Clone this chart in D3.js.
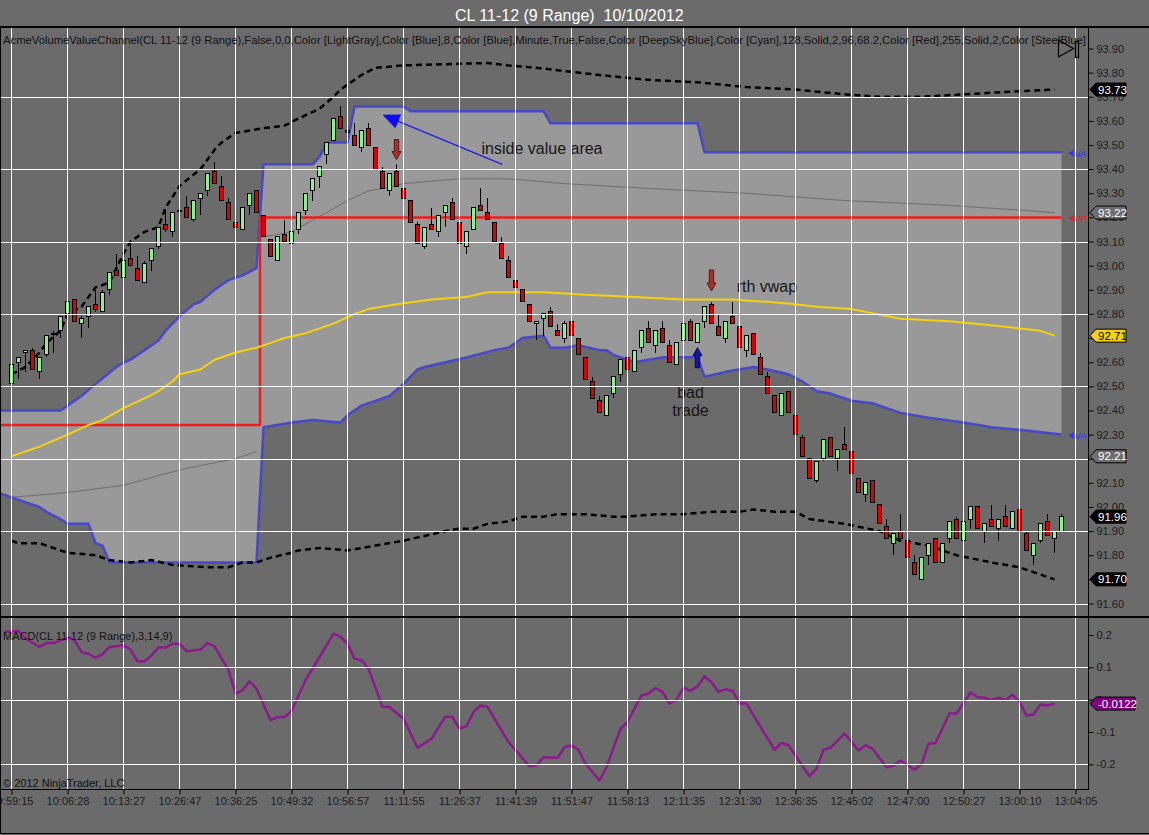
<!DOCTYPE html>
<html>
<head>
<meta charset="utf-8">
<script src="https://cdn.jsdelivr.net/npm/d3@7"></script>
<style>
  body { margin: 0; background: #6b6b6b; }
  svg { display: block; font-family: "Liberation Sans", Arial, sans-serif; }
</style>
</head>
<body>
<div id="chart"></div>
<script>
const WIDTH = 1149;
const HEIGHT = 835;
const AXIS_X = 1088.5;
const MAIN = {top: 27, bottom: 617};
const LOWER = {top: 617, bottom: 789.5};

// range bars (9 ticks), one entry per bar
const opens = [
  92.51,92.60,92.64,92.65,92.56,92.63,92.72,92.73,92.80,92.86,
  92.76,92.79,92.84,92.81,92.90,92.98,92.95,93.03,92.99,92.93,
  93.02,93.08,93.17,93.14,93.23,93.24,93.19,93.28,93.31,93.39,
  93.33,93.26,93.18,93.15,93.25,93.31,93.21,93.11,93.02,93.13,
  93.09,93.15,93.23,93.31,93.37,93.46,93.52,93.62,93.56,93.54,
  93.49,93.57,93.49,93.39,93.31,93.39,93.32,93.27,93.17,93.08,
  93.17,93.14,93.22,93.26,93.18,93.08,93.15,93.25,93.22,93.18,
  93.09,93.02,92.94,92.90,92.84,92.76,92.78,92.81,92.73,92.70,
  92.77,92.70,92.62,92.52,92.44,92.38,92.47,92.55,92.62,92.56,
  92.66,92.74,92.67,92.74,92.67,92.59,92.69,92.77,92.68,92.77,
  92.84,92.75,92.70,92.79,92.75,92.65,92.72,92.62,92.54,92.46,
  92.38,92.48,92.38,92.29,92.20,92.11,92.20,92.29,92.20,92.26,
  92.23,92.12,92.05,92.11,92.01,91.92,91.85,91.90,91.86,91.77,
  91.70,91.80,91.87,91.77,91.87,91.95,91.86,91.95,92.00,91.90,
  91.95,91.91,91.96,91.91,91.99,91.89,91.80,91.86,91.94,91.87,
  91.90];
const highs = [
  92.60,92.62,92.65,92.66,92.62,92.71,92.73,92.79,92.85,92.86,
  92.79,92.83,92.90,92.90,92.97,93.05,93.02,93.09,93.04,93.02,
  93.07,93.16,93.23,93.22,93.23,93.29,93.27,93.30,93.38,93.43,
  93.37,93.28,93.25,93.24,93.30,93.31,93.21,93.11,93.12,93.19,
  93.14,93.22,93.30,93.36,93.41,93.51,93.61,93.66,93.65,93.59,
  93.56,93.59,93.49,93.41,93.38,93.42,93.37,93.27,93.18,93.16,
  93.24,93.21,93.25,93.28,93.18,93.14,93.24,93.32,93.28,93.18,
  93.12,93.04,93.00,92.90,92.84,92.77,92.80,92.83,92.76,92.77,
  92.80,92.70,92.62,92.54,92.46,92.46,92.54,92.61,92.66,92.65,
  92.73,92.77,92.73,92.77,92.69,92.68,92.76,92.78,92.76,92.83,
  92.85,92.80,92.77,92.85,92.75,92.71,92.72,92.64,92.56,92.46,
  92.47,92.48,92.38,92.30,92.20,92.19,92.28,92.29,92.24,92.33,
  92.23,92.12,92.10,92.11,92.01,91.95,91.89,91.97,91.86,91.80,
  91.79,91.85,91.87,91.85,91.94,91.96,91.94,92.00,92.00,91.93,
  92.01,91.95,92.01,91.98,91.99,91.90,91.85,91.93,91.97,91.90,
  91.97];
const lows = [
  92.50,92.53,92.56,92.57,92.53,92.62,92.64,92.70,92.76,92.77,
  92.70,92.74,92.81,92.81,92.88,92.96,92.93,93.00,92.94,92.93,
  92.98,93.07,93.14,93.12,93.14,93.20,93.18,93.21,93.29,93.34,
  93.27,93.19,93.16,93.15,93.21,93.22,93.12,93.04,93.02,93.10,
  93.05,93.13,93.21,93.27,93.32,93.42,93.52,93.57,93.55,93.50,
  93.47,93.50,93.40,93.32,93.29,93.33,93.28,93.18,93.09,93.07,
  93.15,93.12,93.16,93.19,93.09,93.05,93.15,93.23,93.19,93.10,
  93.03,92.95,92.91,92.85,92.77,92.69,92.71,92.75,92.71,92.68,
  92.71,92.63,92.53,92.45,92.39,92.38,92.45,92.52,92.57,92.56,
  92.64,92.68,92.64,92.68,92.60,92.59,92.67,92.69,92.68,92.74,
  92.76,92.71,92.68,92.76,92.66,92.62,92.63,92.55,92.47,92.39,
  92.38,92.39,92.30,92.21,92.12,92.10,92.19,92.21,92.15,92.24,
  92.14,92.06,92.02,92.02,91.93,91.87,91.80,91.87,91.79,91.72,
  91.70,91.76,91.77,91.77,91.85,91.87,91.86,91.91,91.91,91.85,
  91.92,91.86,91.92,91.91,91.90,91.82,91.76,91.85,91.88,91.81,
  91.90];
const closes = [
  92.59,92.62,92.65,92.57,92.62,92.71,92.72,92.79,92.85,92.77,
  92.78,92.83,92.82,92.89,92.97,92.96,93.02,93.00,92.94,93.01,
  93.07,93.16,93.15,93.22,93.23,93.20,93.27,93.30,93.38,93.34,
  93.27,93.19,93.16,93.24,93.30,93.22,93.12,93.04,93.12,93.10,
  93.14,93.22,93.30,93.36,93.41,93.51,93.61,93.57,93.55,93.50,
  93.56,93.50,93.40,93.32,93.38,93.33,93.28,93.18,93.09,93.16,
  93.15,93.21,93.25,93.19,93.09,93.14,93.24,93.23,93.19,93.10,
  93.03,92.95,92.91,92.85,92.77,92.77,92.80,92.75,92.71,92.76,
  92.71,92.63,92.53,92.45,92.39,92.46,92.54,92.61,92.57,92.65,
  92.73,92.68,92.73,92.68,92.60,92.68,92.76,92.69,92.76,92.83,
  92.76,92.71,92.77,92.76,92.66,92.71,92.63,92.55,92.47,92.39,
  92.47,92.39,92.30,92.21,92.12,92.19,92.28,92.21,92.24,92.24,
  92.14,92.06,92.10,92.02,91.93,91.87,91.89,91.87,91.79,91.72,
  91.79,91.85,91.77,91.85,91.94,91.87,91.94,92.00,91.91,91.93,
  91.92,91.95,91.92,91.98,91.90,91.82,91.85,91.93,91.88,91.90,
  91.96];

// indicator readings as [bar, value]
const vaHigh = [[-2,92.40],[7,92.40],[8,92.42],[10,92.46],[12,92.51],[15,92.58],[16,92.60],[17,92.61],
  [19,92.65],[21,92.69],[22,92.73],[24,92.79],[26,92.84],[27,92.85],[29,92.90],[31,92.94],[33,92.96],
  [35,92.99],[36,93.42],[43,93.42],[44,93.45],[45,93.51],[48,93.51],[49,93.66],[56,93.66],[57,93.64],
  [76,93.64],[77,93.59],[98,93.59],[99,93.47],[150,93.47]];
const vaLow = [[-2,92.06],[0,92.04],[3,92.01],[4,92.00],[5,91.98],[7,91.95],[8,91.93],[11,91.93],
  [12,91.85],[13,91.84],[14,91.77],[31,91.77],[35,91.77],[36,92.33],[38,92.34],[40,92.35],[43,92.36],
  [47,92.35],[48,92.38],[50,92.42],[54,92.46],[56,92.51],[58,92.57],[59,92.58],[62,92.60],[65,92.62],
  [69,92.65],[71,92.66],[73,92.70],[76,92.71],[77,92.66],[79,92.66],[81,92.67],[84,92.65],[85,92.65],
  [86,92.63],[88,92.61],[89,92.60],[91,92.61],[93,92.62],[98,92.62],[99,92.54],[102,92.56],[106,92.58],
  [108,92.57],[111,92.55],[113,92.52],[115,92.48],[117,92.47],[120,92.44],[123,92.43],[127,92.39],
  [131,92.37],[136,92.35],[140,92.33],[144,92.32],[150,92.30]];
const vpLine = [[-2,92.34],[35,92.34],[36,93.20],[150,93.20]];
const thinEarly = [[0,92.04],[8,92.06],[16,92.09],[21,92.13],[25,92.16],[32,92.20],[35,92.23]];
const thinLate = [[36,93.12],[40,93.14],[45,93.22],[48,93.27],[51,93.31],[53,93.32],[56,93.34],[64,93.36],
  [71,93.36],[79,93.34],[91,93.32],[105,93.30],[119,93.27],[134,93.25],[149,93.22]];
const rthVwap = [[0,92.21],[1,92.22],[3,92.24],[4,92.25],[8,92.30],[11,92.34],[13,92.36],[16,92.41],
  [19,92.45],[21,92.48],[23,92.52],[24,92.55],[27,92.57],[29,92.61],[32,92.64],[35,92.66],[37,92.68],
  [39,92.70],[42,92.72],[46,92.76],[49,92.80],[51,92.82],[55,92.84],[60,92.86],[65,92.87],[68,92.89],
  [72,92.89],[76,92.89],[82,92.88],[89,92.87],[96,92.86],[103,92.86],[108,92.85],[112,92.84],[115,92.83],
  [120,92.82],[127,92.78],[134,92.77],[141,92.75],[147,92.73],[149,92.71]];
const bandHigh = [[0,92.55],[2,92.58],[4,92.64],[5,92.68],[7,92.73],[8,92.80],[10,92.83],[12,92.91],
  [14,92.93],[16,93.05],[17,93.10],[19,93.14],[21,93.16],[22,93.24],[24,93.33],[27,93.40],[29,93.48],
  [30,93.51],[32,93.55],[34,93.56],[36,93.57],[39,93.58],[41,93.61],[44,93.65],[46,93.70],[47,93.73],
  [50,93.79],[52,93.82],[56,93.83],[68,93.84],[71,93.83],[75,93.82],[84,93.79],[91,93.77],[98,93.76],
  [105,93.74],[112,93.73],[119,93.71],[124,93.70],[130,93.70],[136,93.71],[142,93.72],[149,93.73]];
const bandLow = [[0,91.86],[1,91.85],[4,91.85],[8,91.81],[12,91.80],[14,91.78],[17,91.77],[20,91.78],
  [23,91.76],[28,91.75],[31,91.75],[33,91.77],[35,91.77],[37,91.79],[40,91.81],[41,91.82],[44,91.83],
  [48,91.82],[52,91.84],[56,91.86],[59,91.88],[62,91.90],[64,91.91],[66,91.91],[68,91.93],[71,91.94],
  [73,91.96],[76,91.96],[78,91.97],[82,91.97],[86,91.96],[88,91.96],[92,91.97],[96,91.97],[100,91.98],
  [104,91.98],[106,91.99],[109,91.98],[112,91.98],[114,91.95],[119,91.93],[124,91.90],[127,91.86],
  [131,91.84],[135,91.80],[140,91.77],[144,91.75],[149,91.70]];

const macdBars = [-1,1,2,4,5,6,8,9,10,11,12,13,14,16,17,18,19,20,21,22,23,24,25,27,28,29,31,32,33,34,35,
  37,38,39,40,42,44,46,47,48,49,50,51,53,54,56,58,60,62,63,64,65,66,67,68,71,74,75,76,78,79,80,81,82,84,
  85,87,88,90,91,92,93,94,95,96,97,98,99,100,101,102,103,104,105,106,109,110,111,114,115,116,117,119,
  121,122,123,125,126,127,129,130,131,132,134,135,137,138,139,140,141,142,143,144,145,146,147,148,149];
const macdValues = [0.209,0.212,0.189,0.163,0.175,0.175,0.192,0.184,0.147,0.142,0.130,0.140,0.163,0.168,
  0.155,0.119,0.119,0.137,0.161,0.161,0.173,0.173,0.150,0.155,0.175,0.165,0.091,0.019,0.029,0.057,0.034,
  -0.064,-0.054,-0.054,-0.035,0.060,0.132,0.204,0.194,0.173,0.127,0.122,0.096,-0.023,-0.023,-0.059,
  -0.149,-0.121,-0.052,-0.054,-0.090,-0.082,-0.038,-0.018,-0.023,-0.131,-0.206,-0.203,-0.178,-0.180,
  -0.147,-0.141,-0.155,-0.198,-0.250,-0.209,-0.090,-0.069,0.013,0.019,0.036,0.024,-0.012,0.000,0.037,
  0.027,0.041,0.072,0.054,0.024,0.032,0.027,-0.012,-0.012,-0.049,-0.155,-0.134,-0.141,-0.237,-0.214,
  -0.155,-0.149,-0.105,-0.157,-0.141,-0.152,-0.209,-0.204,-0.188,-0.217,-0.200,-0.136,-0.134,-0.043,
  -0.043,0.022,0.008,0.006,-0.002,0.006,-0.002,0.015,-0.007,-0.049,-0.046,-0.015,-0.018,-0.0122];

const timeTicks = [0,8,16,24,32,40,48,56,64,72,80,88,96,104,112,120,128,136,144,152];
const timeLabels = ['09:59:15','10:06:28','10:13:27','10:26:47','10:36:25','10:49:32','10:56:57',
  '11:11:55','11:26:37','11:41:39','11:51:47','11:58:13','12:11:35','12:31:30','12:36:35','12:45:02',
  '12:47:00','12:50:27','13:00:10','13:04:05'];
const priceTicks = [93.90,93.80,93.70,93.60,93.50,93.40,93.30,93.20,93.10,93.00,92.90,92.80,92.70,
  92.60,92.50,92.40,92.30,92.20,92.10,92.00,91.90,91.80,91.70,91.60];
const priceGrid = [93.70,93.40,93.10,92.80,92.50,92.20,91.90,91.60];
const macdTicks = [0.2,0.1,0,-0.1,-0.2];
const macdGrid = [0.1,0,-0.2];

const LEGEND = 'AcmeVolumeValueChannel(CL 11-12 (9 Range),False,0,0,Color [LightGray],Color [Blue],8,Color [Blue],Minute,True,False,Color [DeepSkyBlue],Color [Cyan],128,Solid,2,96,68.2,Color [Red],255,Solid,2,Color [SteelBlue]';

// scales
const X = d3.scaleLinear().domain([0, 152]).range([11.5, 1075.5]);
const Y = d3.scaleLinear().domain([91.60, 93.90]).range([603.5, 48.5]);
const YM = d3.scaleLinear().domain([-0.2, 0.2]).range([764.3, 635]);

const svg = d3.select('#chart').append('svg')
  .attr('width', WIDTH).attr('height', HEIGHT);

svg.append('rect').attr('width', WIDTH).attr('height', HEIGHT).attr('fill', '#6b6b6b');

const defs = svg.append('defs');
defs.append('clipPath').attr('id', 'clipMain')
  .append('rect').attr('x', 0).attr('y', MAIN.top).attr('width', AXIS_X).attr('height', MAIN.bottom - MAIN.top);
defs.append('clipPath').attr('id', 'clipLower')
  .append('rect').attr('x', 0).attr('y', LOWER.top).attr('width', AXIS_X).attr('height', LOWER.bottom - LOWER.top);

const main = svg.append('g').attr('clip-path', 'url(#clipMain)');
const lower = svg.append('g').attr('clip-path', 'url(#clipLower)');

const line = d3.line().x(d => X(d[0])).y(d => Y(d[1]));

// value area fill
const vaPoly = vaHigh.concat(vaLow.slice().reverse());
main.append('path').attr('d', line(vaPoly) + 'Z').attr('fill', '#999999');

// grid
const grid = svg.append('g').attr('stroke', '#ffffff').attr('stroke-width', 1).attr('shape-rendering', 'crispEdges');
grid.selectAll('.vg').data(timeTicks).enter().append('line')
  .attr('x1', d => X(d)).attr('x2', d => X(d)).attr('y1', MAIN.top).attr('y2', LOWER.bottom);
grid.selectAll('.hg').data(priceGrid).enter().append('line')
  .attr('x1', 0).attr('x2', AXIS_X).attr('y1', d => Math.round(Y(d)) + 0.5).attr('y2', d => Math.round(Y(d)) + 0.5);
grid.selectAll('.mg').data(macdGrid).enter().append('line')
  .attr('x1', 0).attr('x2', AXIS_X).attr('y1', d => Math.round(YM(d)) + 0.5).attr('y2', d => Math.round(YM(d)) + 0.5);

// indicator lines
function plot(data, color, width, dash, curve) {
  const l = d3.line().x(d => X(d[0])).y(d => Y(d[1])).curve(curve || d3.curveLinear);
  main.append('path').attr('d', l(data)).attr('fill', 'none')
    .attr('stroke', color).attr('stroke-width', width)
    .attr('stroke-dasharray', dash || null).attr('stroke-linejoin', 'round');
}
plot(thinEarly, '#6e6e6e', 1);
plot(thinLate, '#6e6e6e', 1);
plot(vaHigh, '#4848c8', 2.5);
plot(vaLow, '#4848c8', 2.5);
plot(vpLine, '#f01c1c', 2.5, null, d3.curveStep);
plot(rthVwap, '#f5d20f', 2);
plot(bandHigh, '#000000', 2.5, '6,4');
plot(bandLow, '#000000', 2.5, '6,4');

// right-edge labels for the value area lines
const edgeLabels = [
  {v: vaHigh[vaHigh.length - 1][1], t: 'VA', c: '#3030ff'},
  {v: vpLine[vpLine.length - 1][1], t: 'VP', c: '#f01c1c'},
  {v: vaLow[vaLow.length - 1][1], t: 'VA', c: '#3030ff'}
];
edgeLabels.forEach(e => {
  const ly = Y(e.v) + 1;
  const lx = X(151);
  main.append('path').attr('d', `M${lx},${ly} L${lx + 5},${ly - 3.5} L${lx + 5},${ly + 3.5} Z`).attr('fill', e.c);
  main.append('text').attr('x', lx + 6).attr('y', ly + 3.5).attr('font-size', '9.5px').attr('fill', e.c).text(e.t);
});

// candles
const bars = d3.range(closes.length);
const candles = main.append('g').attr('shape-rendering', 'crispEdges');
candles.selectAll('.wick').data(bars).enter().append('line')
  .attr('x1', i => X(i)).attr('x2', i => X(i))
  .attr('y1', i => Y(highs[i])).attr('y2', i => Y(lows[i]))
  .attr('stroke', '#000').attr('stroke-width', 1);
candles.selectAll('.body').data(bars).enter().append('rect')
  .attr('x', i => X(i) - 2)
  .attr('width', 4)
  .attr('y', i => Y(Math.max(opens[i], closes[i])))
  .attr('height', i => Math.max(1, Math.abs(Y(opens[i]) - Y(closes[i]))))
  .attr('fill', i => closes[i] >= opens[i] ? '#90ee90' : '#dc0000')
  .attr('stroke', '#000').attr('stroke-width', 1);

// annotations
function arrow(bar, tipPrice, dir, fill, stroke, len) {
  const cx = X(bar), ty = Y(tipPrice), s = dir; // dir = 1 points down, -1 points up
  const hh = 8, hw = 4.5, sw = 2.2;
  const pts = [[cx - sw, ty - s * len], [cx + sw, ty - s * len], [cx + sw, ty - s * hh], [cx + hw, ty - s * hh],
    [cx, ty], [cx - hw, ty - s * hh], [cx - sw, ty - s * hh]];
  main.append('path').attr('d', d3.line()(pts) + 'Z').attr('fill', fill).attr('stroke', stroke).attr('stroke-width', 1);
}
arrow(55, 93.44, 1, '#a8322a', '#5a1410', 20);
arrow(100, 92.895, 1, '#a8322a', '#5a1410', 21);
arrow(98, 92.66, -1, '#1414a0', '#08084a', 20);

// blue pointer into the value area
const tip = [X(53), Y(93.625)];
const tail = [X(70.1), Y(93.42)];
main.append('line').attr('x1', tail[0]).attr('y1', tail[1]).attr('x2', tip[0] + 10).attr('y2', tip[1] + 4)
  .attr('stroke', '#2020e0').attr('stroke-width', 1.5);
{
  const dx = tip[0] - tail[0], dy = tip[1] - tail[1], L = Math.hypot(dx, dy);
  const ux = dx / L, uy = dy / L, px = -uy, py = ux;
  const hl = 17, hw = 7.5;
  const bx = tip[0] - ux * hl, by = tip[1] - uy * hl;
  main.append('path')
    .attr('d', d3.line()([tip, [bx + px * hw, by + py * hw], [bx - px * hw, by - py * hw]]) + 'Z')
    .attr('fill', '#0a0aff');
}

const notes = [
  {bar: 67.15, price: 93.463, t: 'inside value area', a: 'start'},
  {bar: 103.6, price: 92.892, t: 'rth vwap', a: 'start'},
  {bar: 97, price: 92.452, t: 'bad', a: 'middle'},
  {bar: 97, price: 92.375, t: 'trade', a: 'middle'}
];
main.selectAll('.note').data(notes).enter().append('text')
  .attr('x', d => X(d.bar)).attr('y', d => Y(d.price))
  .attr('text-anchor', d => d.a).attr('font-size', '16px').attr('fill', '#161616')
  .text(d => d.t);

// MACD
const macdLine = d3.line().x(d => X(d[0])).y(d => YM(d[1]));
lower.append('path').attr('d', macdLine(macdBars.map((b, i) => [b, macdValues[i]])))
  .attr('fill', 'none').attr('stroke', '#8c1a8c').attr('stroke-width', 2.5).attr('stroke-linejoin', 'round');

// frame lines
const frame = svg.append('g').attr('stroke', '#000').attr('stroke-width', 1.5).attr('shape-rendering', 'crispEdges');
frame.append('line').attr('x1', 0).attr('x2', WIDTH).attr('y1', MAIN.top).attr('y2', MAIN.top);
frame.append('line').attr('x1', 0).attr('x2', WIDTH).attr('y1', LOWER.top).attr('y2', LOWER.top);
frame.append('line').attr('x1', 0).attr('x2', AXIS_X).attr('y1', LOWER.bottom).attr('y2', LOWER.bottom);
frame.append('line').attr('x1', AXIS_X).attr('x2', AXIS_X).attr('y1', MAIN.top).attr('y2', LOWER.bottom);
frame.append('line').attr('x1', 0).attr('x2', WIDTH).attr('y1', 833.5).attr('y2', 833.5);
frame.append('line').attr('x1', 0.5).attr('x2', 0.5).attr('y1', MAIN.top).attr('y2', 833.5);

// axes
function styleAxis(g) {
  g.select('.domain').remove();
  g.selectAll('.tick line').attr('stroke', '#000');
  g.selectAll('.tick text').attr('fill', '#1c1c1c').attr('font-size', '11px')
    .attr('font-family', '"Liberation Sans", Arial, sans-serif');
}
svg.append('g').attr('transform', `translate(${AXIS_X},0)`)
  .call(d3.axisRight(Y).tickValues(priceTicks).tickSize(5).tickFormat(d3.format('.2f')))
  .call(styleAxis);
svg.append('g').attr('transform', `translate(${AXIS_X},0)`)
  .call(d3.axisRight(YM).tickValues(macdTicks).tickSize(5).tickFormat(d => String(d)))
  .call(styleAxis);
svg.append('g').attr('transform', `translate(0,${LOWER.bottom})`)
  .call(d3.axisBottom(X).tickValues(timeTicks).tickSize(5).tickFormat((d, i) => timeLabels[i]))
  .call(styleAxis);

// value markers on the price scale
const markers = [
  {v: bandHigh[bandHigh.length - 1][1], s: Y, fill: '#000000', text: '#ffffff', label: '93.73'},
  {v: thinLate[thinLate.length - 1][1], s: Y, fill: '#6e6e6e', text: '#ffffff', label: '93.22'},
  {v: rthVwap[rthVwap.length - 1][1], s: Y, fill: '#f5d20f', text: '#000000', label: '92.71'},
  {v: 92.21, s: Y, fill: '#6e6e6e', text: '#ffffff', label: '92.21'},
  {v: closes[closes.length - 1], s: Y, fill: '#000000', text: '#ffffff', label: '91.96'},
  {v: bandLow[bandLow.length - 1][1], s: Y, fill: '#000000', text: '#ffffff', label: '91.70'},
  {v: macdValues[macdValues.length - 1], s: YM, fill: '#800080', text: '#ffffff', label: '-0.0122'}
];
markers.forEach(m => {
  const cy = m.s(m.v);
  const w = m.label.length > 5 ? 39 : 30;
  const x0 = AXIS_X + 1.5;
  svg.append('path')
    .attr('d', `M${x0},${cy} L${x0 + 6},${cy - 6.5} L${x0 + 6 + w},${cy - 6.5} L${x0 + 6 + w},${cy + 6.5} L${x0 + 6},${cy + 6.5} Z`)
    .attr('fill', m.fill).attr('stroke', '#000').attr('stroke-width', 1);
  svg.append('text').attr('x', x0 + 8).attr('y', cy + 4).attr('font-size', '11.5px')
    .attr('fill', m.text).text(m.label);
});

// titles
svg.append('text').attr('x', 455).attr('y', 20.5).attr('font-size', '16px').attr('fill', '#ffffff')
  .attr('style', 'white-space:pre').text('CL 11-12 (9 Range)  10/10/2012');
svg.append('text').attr('x', 3).attr('y', 43.5).attr('font-size', '11px').attr('fill', '#111')
  .attr('textLength', 1083).attr('lengthAdjust', 'spacingAndGlyphs').text(LEGEND);
svg.append('text').attr('x', 3).attr('y', 640).attr('font-size', '11px').attr('fill', '#111')
  .text('MACD(CL 11-12 (9 Range),3,14,9)');
svg.append('text').attr('x', 3).attr('y', 787).attr('font-size', '11px').attr('fill', '#111')
  .text('\u00a9 2012 NinjaTrader, LLC');

// small toolbar glyph, top right
svg.append('path').attr('d', 'M1058.5,40 L1073.5,48.5 L1058.5,57 Z')
  .attr('fill', 'none').attr('stroke', '#000').attr('stroke-width', 1.2);
svg.append('rect').attr('x', 1075.5).attr('y', 41.5).attr('width', 3).attr('height', 16)
  .attr('fill', 'none').attr('stroke', '#000').attr('stroke-width', 1.2);
</script>
</body>
</html>
